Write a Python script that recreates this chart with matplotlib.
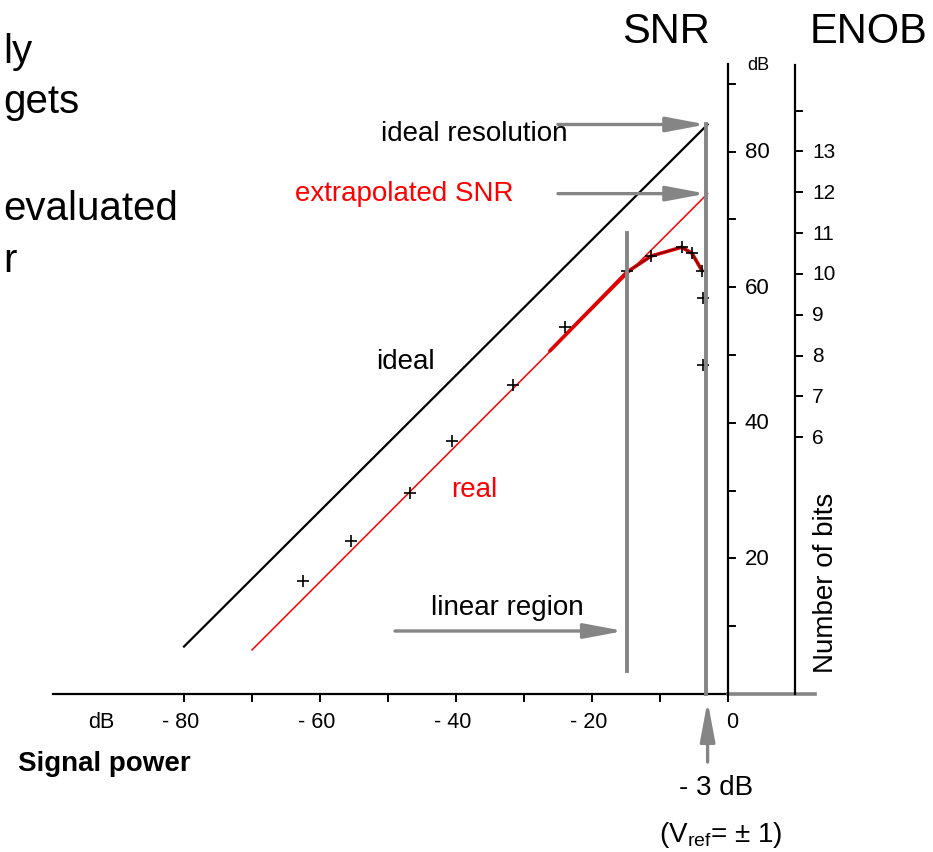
import matplotlib
matplotlib.use("Agg")
import matplotlib.pyplot as plt
from matplotlib.patches import FancyArrowPatch

plt.rcParams['font.family'] = ['Liberation Sans', 'DejaVu Sans']

# ---- data (dB) ----
ideal_x = [-80, -3]
ideal_snr = [7, 84]
real_x = [-70, -3]
real_snr = [6.5, 73.8]
meas_x = [-62.5, -55.4, -46.8, -40.6, -31.6, -24.0, -14.9, -11.3, -6.8, -5.3, -3.8, -3.7, -3.7]
meas_snr = [16.7, 22.6, 29.6, 37.3, 45.6, 54.1, 62.4, 64.6, 65.9, 65.0, 62.4, 58.4, 48.5]
curve_x = [-26.2, -14.9, -11.3, -6.8, -5.3, -3.8]
curve_snr = [50.6, 62.2, 64.6, 65.9, 65.0, 62.4]
linear_edge = -14.9
linear_span = [3.4, 68]
clip_x = -3.2

x_ticks = [-80, -70, -60, -50, -40, -30, -20, -10, 0]
x_labels = {-80: '- 80', -60: '- 60', -40: '- 40', -20: '- 20', 0: '0'}
snr_ticks = [10, 20, 30, 40, 50, 60, 70, 80, 90]
snr_labels = {20: '20', 40: '40', 60: '60', 80: '80'}
enob_ticks = [6, 7, 8, 9, 10, 11, 12, 13, 14]
enob_labels = ['6', '7', '8', '9', '10', '11', '12', '13']
enob_pos = 9.85  # dB position of the ENOB axis

def enob2snr(n):
    return 6.02 * n + 1.76

# pixel -> data helpers (axes fill the whole figure)
SX, SY, X0, Y0 = 6.8, 6.78, 728, 695
def P(x, y):
    return ((x - X0) / SX, (Y0 - y) / SY)

fig = plt.figure(figsize=(9.33, 8.53), dpi=100)
ax = fig.add_axes([0, 0, 1, 1])
ax.set_xlim(-X0 / SX, (933 - X0) / SX)
ax.set_ylim((Y0 - 853) / SY, Y0 / SY)
ax.axis('off')

gray = '#858585'

# axes lines
ax.plot([P(53, 0)[0], 0], [0, 0], color='black', lw=1.6)
ax.plot([0, P(815, 0)[0]], [0, 0], color=gray, lw=2.6)
ax.plot([0, 0], [0, P(0, 65)[1]], color='black', lw=1.6)
ax.plot([enob_pos, enob_pos], [0, P(0, 66)[1]], color='black', lw=1.6)
tl = 7 / SX
for t in x_ticks:
    ax.plot([t, t], [0, -tl * SX / SY], color='black', lw=1.4)
    if t in x_labels:
        off = 10 if t == 0 else 15
        ax.text(t + off / SX, P(0, 723)[1], x_labels[t], ha='right', va='center', fontsize=15.5)
ax.text(P(101, 0)[0], P(0, 723)[1], 'dB', ha='center', va='center', fontsize=15.5)
for t in snr_ticks:
    ax.plot([0, tl], [t, t], color='black', lw=1.4)
    if t in snr_labels:
        ax.text(P(745, 0)[0], t, snr_labels[t], ha='left', va='center', fontsize=16)
ax.text(P(758, 0)[0], P(0, 65)[1], 'dB', ha='center', va='center', fontsize=13)
for n in enob_ticks:
    s = enob2snr(n)
    ax.plot([enob_pos, enob_pos + tl], [s, s], color='black', lw=1.4)
for lab in enob_labels:
    ax.text(P(812, 0)[0], enob2snr(int(lab)), lab, ha='left', va='center', fontsize=15)

# lines
ax.plot(ideal_x, ideal_snr, color='black', lw=1.6)
ax.plot(real_x, real_snr, color='red', lw=1.1)
ax.plot(curve_x, curve_snr, color='#e00000', lw=2.6, solid_capstyle='round')
ax.plot(curve_x[1:], curve_snr[1:], color='#400000', lw=0.8, alpha=0.7)
ax.plot(meas_x, meas_snr, ls='none', marker='+', ms=8, mew=1.2, color='black')

# vertical gray lines
ax.plot([linear_edge, linear_edge], linear_span, color=gray, lw=2.8)
ax.plot([clip_x, clip_x], [0, ideal_snr[-1]], color=gray, lw=2.8)

def arrow(p0, p1):
    a = FancyArrowPatch(p0, p1, arrowstyle='-|>,head_length=2.4,head_width=0.45',
                        mutation_scale=10, color=gray, lw=2.4,
                        facecolor='#6a6a6a', shrinkA=0, shrinkB=0, zorder=3)
    ax.add_patch(a)

arrow((P(558, 0)[0], ideal_snr[-1]), (clip_x, ideal_snr[-1]))
arrow((P(558, 0)[0], real_snr[-1]), (clip_x, real_snr[-1]))
arrow(P(395, 632), (linear_edge - 0.4, P(0, 632)[1]))
arrow((-3.0, P(0, 763)[1]), (-3.0, P(0, 702)[1]))

# annotations
ax.text(*P(474, 134), 'ideal resolution', ha='center', va='center', fontsize=20)
ax.text(*P(404, 194), 'extrapolated SNR', ha='center', va='center', fontsize=20, color='red')
ax.text(*P(405, 362), 'ideal', ha='center', va='center', fontsize=20)
ax.text(*P(474, 490), 'real', ha='center', va='center', fontsize=20, color='red')
ax.text(*P(507, 608), 'linear region', ha='center', va='center', fontsize=20)
ax.text(*P(716, 788), '- 3 dB', ha='center', va='center', fontsize=20)
ax.text(*P(721, 835), '(V$_{\\mathregular{ref}}$= ± 1)', ha='center', va='center', fontsize=20)
ax.text(*P(18, 764), 'Signal power', ha='left', va='center', fontsize=20, fontweight='bold')
ax.text(*P(826, 583), 'Number of bits', ha='center', va='center', fontsize=20, rotation=90)

# titles and slide text on the left
ax.text(*P(666, 43), 'SNR', ha='center', va='baseline', fontsize=30)
ax.text(*P(810, 43), 'ENOB', ha='left', va='baseline', fontsize=30)
ax.text(*P(3, 63), 'ly', ha='left', va='baseline', fontsize=29)
ax.text(*P(3, 113), 'gets', ha='left', va='baseline', fontsize=29)
ax.text(*P(3, 220), 'evaluated', ha='left', va='baseline', fontsize=29)
ax.text(*P(3, 272), 'r', ha='left', va='baseline', fontsize=29)

fig.savefig('out.png', dpi=100)
